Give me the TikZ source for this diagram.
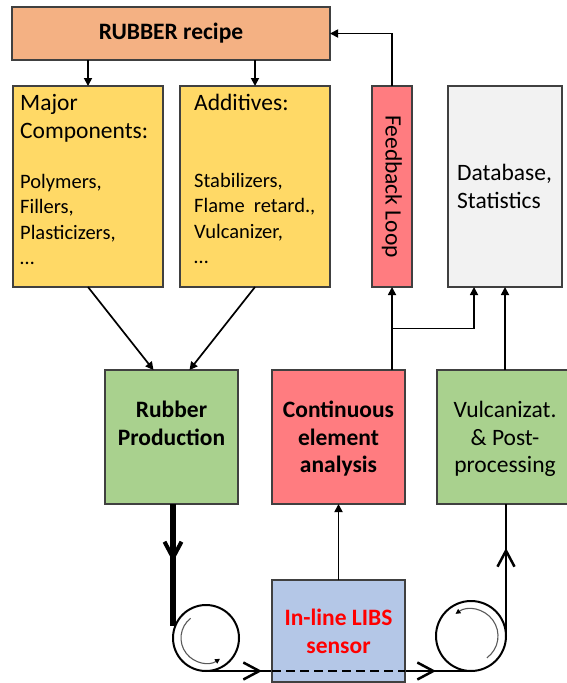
\documentclass[tikz,border=0pt]{standalone}
\usepackage{fontspec}
\setmainfont{Carlito}
\usetikzlibrary{arrows.meta,calc}
\definecolor{recipeC}{HTML}{F4B183}
\definecolor{yellowC}{HTML}{FFD966}
\definecolor{greenC}{HTML}{A9D18E}
\definecolor{pinkC}{HTML}{FF7C80}
\definecolor{greyC}{HTML}{F2F2F2}
\definecolor{blueC}{HTML}{B4C7E7}
\definecolor{edgeC}{HTML}{404040}
\definecolor{alertC}{HTML}{FF0000}
\begin{document}
\begin{tikzpicture}[x=1pt,y=-1pt,
  box/.style={draw=edgeC,line width=1.4pt,anchor=north west,inner sep=0pt,outer sep=0pt},
  small/.style={font=\fontsize{20.5}{25.5}\selectfont,inner sep=0pt},
  big/.style={font=\fontsize{23.5}{27.5}\selectfont,inner sep=0pt},
  bigbold/.style={font=\fontsize{23.5}{27.5}\selectfont\bfseries,inner sep=0pt},
  arr/.style={line width=1.7pt,-{Triangle[length=8pt,width=8pt]}},
  belt/.style={line width=2.5pt},
  barbtip/.style={-{Straight Barb[length=16pt,width=17pt]}},
  wheel/.style={circle,draw,line width=2pt,inner sep=0pt,outer sep=0pt},
  spin/.style={draw=black!65,line width=1.1pt,-{Triangle[length=5pt,width=5pt,color=black]}},
]
\useasboundingbox (0,0) rectangle (566,683);

% boxes
\node[box,fill=recipeC,minimum width=318pt,minimum height=53pt] (recipe) at (12,7) {};
\node[box,fill=yellowC,minimum width=150pt,minimum height=201pt] (major) at (13,86) {};
\node[box,fill=yellowC,minimum width=150pt,minimum height=201pt] (addit) at (180,86) {};
\node[box,fill=pinkC,minimum width=40pt,minimum height=201pt] (feed) at (372,86) {};
\node[box,fill=greyC,minimum width=114pt,minimum height=201pt] (datab) at (448,86) {};
\node[box,fill=greenC,minimum width=133pt,minimum height=134pt] (prod) at (105,370) {};
\node[box,fill=pinkC,minimum width=133pt,minimum height=134pt] (cont) at (272,370) {};
\node[box,fill=greenC,minimum width=136pt,minimum height=134pt] (vulc) at (437,370) {};

% texts
\node[bigbold] (recipetxt) at (recipe.center) {RUBBER recipe};
\node[big,anchor=north west,align=left] (majorhead) at (20,94.5) {Major\\Components:};
\node[small,anchor=north west,align=left] (majorlist) at (20,174) {Polymers,\\Fillers,\\Plasticizers,\\…};
\node[big,anchor=north west,align=left] (addithead) at (194,94) {Additives:};
\node[small,anchor=north west,align=left] (additlist) at (194,173) {Stabilizers,\\Flame\ \ retard.,\\Vulcanizer,\\…};
\node[big,rotate=-90] (feedtxt) at (feed.center) {Feedback Loop};
\node[big,anchor=north west,align=left] (databtxt) at (457,164) {Database,\\Statistics};
\node[bigbold,anchor=north,align=center] (prodtxt) at ($(prod.north)+(0,31)$) {Rubber\\Production};
\node[bigbold,anchor=north,align=center] (conttxt) at ($(cont.north)+(0,31)$) {Continuous\\element\\analysis};
\node[big,anchor=north,align=center] (vulctxt) at ($(vulc.north)+(0,31)$) {Vulcanizat.\\\& Post-\\processing};

% connectors
\draw[arr] (recipe.south -| major.north) -- (major.north);
\draw[arr] (recipe.south -| addit.north) -- (addit.north);
\draw[arr] (major.south) -- ($(prod.north)+(-18,0)$);
\draw[arr] (addit.south) -- ($(prod.north)+(18,0)$);
\draw[arr] (feed.north) |- (recipe.east);
\draw[arr] (feed.south |- cont.north) -- (feed.south);
\coordinate (split) at ($(feed.south)!0.5!(feed.south |- cont.north)$);
\draw[arr] (split) -| ($(datab.south)+(-31,0)$);
\draw[arr] (vulc.north) -- (vulc.north |- datab.south);

% conveyor wheels and belt
\node[wheel,minimum size=66pt] (lwheel) at (206,638) {};
\node[wheel,minimum size=70pt] (rwheel) at (471,636) {};
\draw[line width=6.5pt] (prod.south -| lwheel.west) -- ($(lwheel.west)+(0,-12)$);
\draw[line width=4pt,barbtip] ($(lwheel.west)+(0,-110)$) -- ($(lwheel.west)+(0,-76)$);
\draw[belt] (lwheel.south) -- (rwheel.south);
\draw[belt] (rwheel.east) -- (vulc.south -| rwheel.east);
\draw[belt,barbtip] ($(rwheel.east)+(0,-60)$) -- ($(rwheel.east)+(0,-88)$);
\draw[spin] ([shift={(-128:25)}]lwheel.center) arc[start angle=-128,end angle=-304,radius=25];
\draw[spin] ([shift={(54:27)}]rwheel.center) arc[start angle=54,end angle=-125,radius=27];

% sensor
\node[box,fill=blueC,minimum width=133pt,minimum height=102pt] (libs) at (272,580) {};
\node[bigbold,anchor=north,align=center,text=alertC] (libstxt) at ($(libs.north)+(0,29)$) {In-line LIBS\\sensor};
\draw[line width=2.6pt,dash pattern=on 9pt off 5pt] (libs.west |- lwheel.south) -- (libs.east |- lwheel.south);
\draw[belt,barbtip] ($(libs.west |- lwheel.south)+(-40,0)$) -- ($(libs.west |- lwheel.south)+(-10,0)$);
\draw[belt,barbtip] ($(libs.east |- lwheel.south)+(2,0)$) -- ($(libs.east |- lwheel.south)+(31,0)$);
\draw[arr] (libs.north) -- (cont.south);
\end{tikzpicture}
\end{document}
